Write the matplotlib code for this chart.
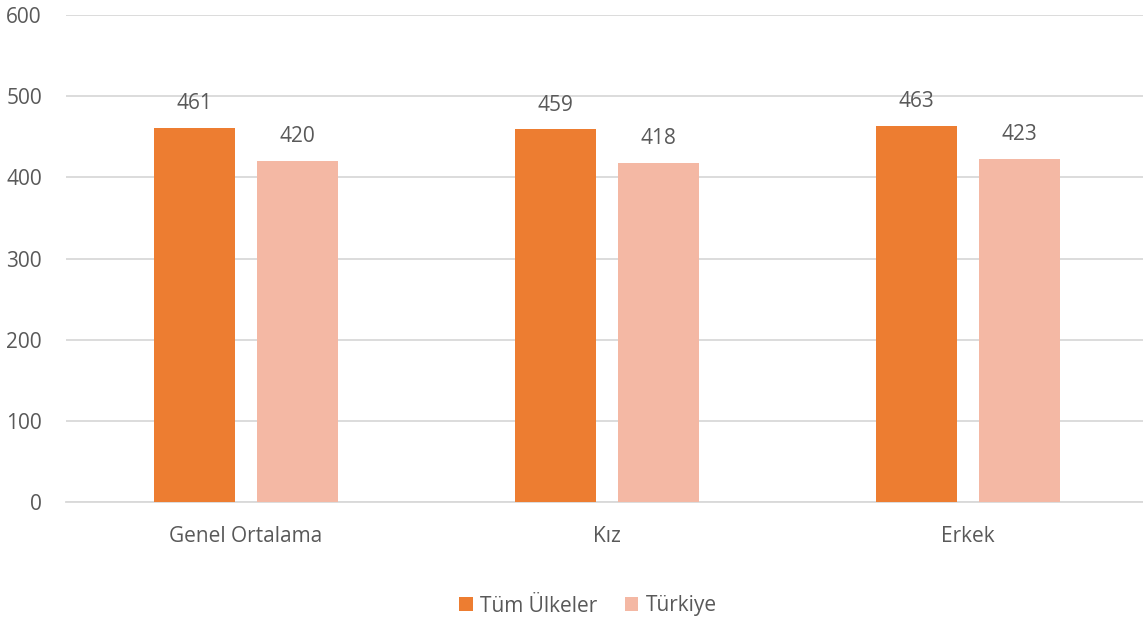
import matplotlib.pyplot as plt
import numpy as np

categories = ["Genel Ortalama", "Kız", "Erkek"]
tum_ulkeler = [461, 459, 463]
turkiye = [420, 418, 423]
series_names = ["Tüm Ülkeler", "Türkiye"]
yticks = [0, 100, 200, 300, 400, 500, 600]

plt.rcParams['font.family'] = ['Open Sans', 'DejaVu Sans']
text_col = '#595959'
colors = ['#ED7D31', '#F4B8A4']
fs = 15

fig = plt.figure(figsize=(11.43, 6.22), dpi=100)
ax = fig.add_axes([65.5 / 1143, 120 / 622, 1083 / 1143, 487 / 622])

x = np.arange(len(categories))
w = 0.225
off = 0.143
bars1 = ax.bar(x - off, tum_ulkeler, w, color=colors[0], label=series_names[0], zorder=3)
bars2 = ax.bar(x + off, turkiye, w, color=colors[1], label=series_names[1], zorder=3)

for bars in (bars1, bars2):
    for b in bars:
        ax.annotate(f"{int(b.get_height())}", (b.get_x() + b.get_width() / 2, b.get_height()),
                    xytext=(0, 10), textcoords='offset points', ha='center', va='bottom',
                    fontsize=fs, color=text_col)

ax.set_xlim(-0.5, 2.5)
ax.set_ylim(0, 600)
ax.set_yticks(yticks)
ax.set_xticks(x)
ax.set_xticklabels(categories)
ax.tick_params(axis='both', length=0, labelsize=fs, labelcolor=text_col)
ax.tick_params(axis='x', pad=17)
ax.tick_params(axis='y', pad=17)

ax.grid(axis='y', color='#D9D9D9', linewidth=1.3, zorder=0)
for s in ['top', 'right', 'left']:
    ax.spines[s].set_visible(False)
ax.spines['bottom'].set_color('#D9D9D9')
ax.spines['bottom'].set_linewidth(1.3)

fig.legend(loc='center', bbox_to_anchor=(588 / 1143, 1 - 606 / 622), ncol=2, frameon=False,
           fontsize=fs, labelcolor=text_col, handlelength=0.65, handleheight=0.65,
           handletextpad=0.35, columnspacing=1.3)

fig.savefig('out.png', dpi=100)
